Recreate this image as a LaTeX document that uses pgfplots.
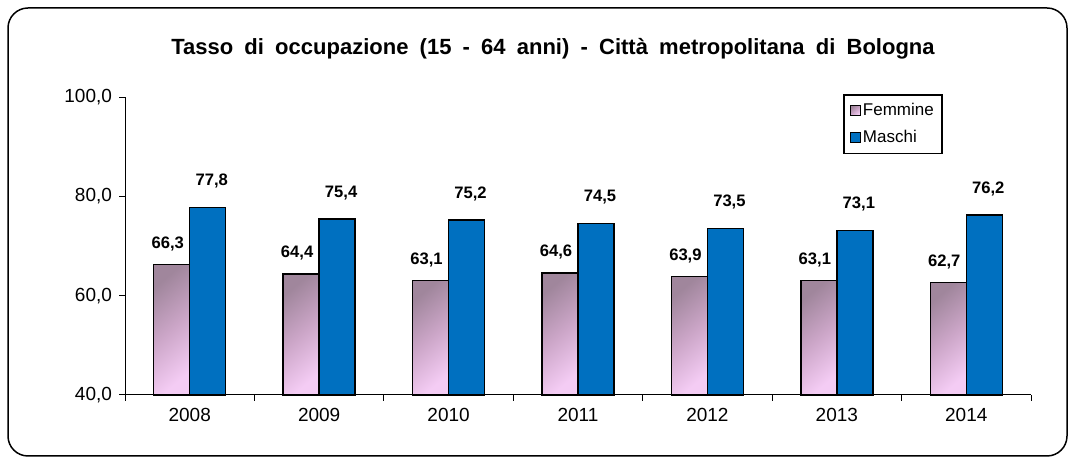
\documentclass[border=0pt]{standalone}
\usepackage{pgfplots}
\pgfplotsset{compat=1.18}
\usepackage{fontspec}
\setmainfont{Liberation Sans}
\definecolor{mblue}{HTML}{0070C0}
\definecolor{fdark}{HTML}{A0869C}
\definecolor{fmid}{HTML}{CCA6C8}
\definecolor{flight}{HTML}{F4CCF4}
\pgfplotsset{
  fbar/.style={draw=black, line width=0.75pt, top color=fdark, bottom color=flight, middle color=fmid, shading angle=40,
    bar shift=-9pt, nodes near coords style={xshift=-2pt, yshift=1pt}},
}
\begin{document}
\begin{tikzpicture}
\useasboundingbox (0pt,0pt) rectangle (537.5pt,232pt);
\draw[line width=0.75pt, rounded corners=10pt] (4pt,4pt) rectangle (533.5pt,228pt);
\node[font=\bfseries\fontsize{11}{13}\selectfont] at (276.5pt,207.5pt) {\spaceskip=5.6pt plus 1pt Tasso di occupazione (15 - 64 anni) - Città metropolitana di Bologna};
\begin{axis}[
  at={(62.5pt,34.5pt)}, anchor=south west,
  width=453pt, height=149pt, scale only axis,
  xmin=-0.5, xmax=6.5, ymin=40, ymax=100,
  ytick={40,60,80,100},
  xtick={-0.5,0.5,...,6.5},
  x tick label as interval,
  xticklabels={2008,2009,2010,2011,2012,2013,2014},
  axis x line*=bottom, axis y line*=left,
  axis line style={line width=0.5pt},
  tick style={line width=0.5pt, black},
  tick align=outside, major tick length=3pt,
  /pgf/number format/assume math mode=true,
  ticklabel style={font=\fontsize{9.5}{11}\selectfont},
  yticklabel style={/pgf/number format/.cd, fixed, fixed zerofill, precision=1, use comma},
  ybar=0pt, bar width=18pt,
  nodes near coords={\pgfmathprintnumber[fixed,fixed zerofill,precision=1,use comma,assume math mode=true]{\pgfplotspointmeta}},
  nodes near coords style={anchor=south, yshift=2pt, font=\bfseries\fontsize{8.3}{10}\selectfont, black},
  area legend,
  legend image code/.code={\draw[#1, line width=0.6pt] (0pt,-2.5pt) rectangle (5pt,2.5pt);},
  legend cell align=left,
  legend style={at={(0.7925,1.01)}, anchor=north west, draw=black, line width=0.75pt,
    font=\fontsize{8.5}{10}\selectfont, inner xsep=3pt, inner ysep=3pt, row sep=4pt,
    nodes={inner sep=1pt}},
  clip=false,
]
\addplot[fbar] coordinates {(0,66.3)};
\addplot[fbar, forget plot] coordinates {(1,64.4)};
\addplot[fbar, forget plot] coordinates {(2,63.1)};
\addplot[fbar, forget plot] coordinates {(3,64.6)};
\addplot[fbar, forget plot] coordinates {(4,63.9)};
\addplot[fbar, forget plot] coordinates {(5,63.1)};
\addplot[fbar, forget plot] coordinates {(6,62.7)};
\addplot[draw=black, line width=0.75pt, fill=mblue, bar shift=9pt, nodes near coords style={xshift=2pt, yshift=4pt}]
  coordinates {(0,77.8) (1,75.4) (2,75.2) (3,74.5) (4,73.5) (5,73.1) (6,76.2)};
\legend{Femmine, Maschi}
\end{axis}
\end{tikzpicture}
\end{document}
